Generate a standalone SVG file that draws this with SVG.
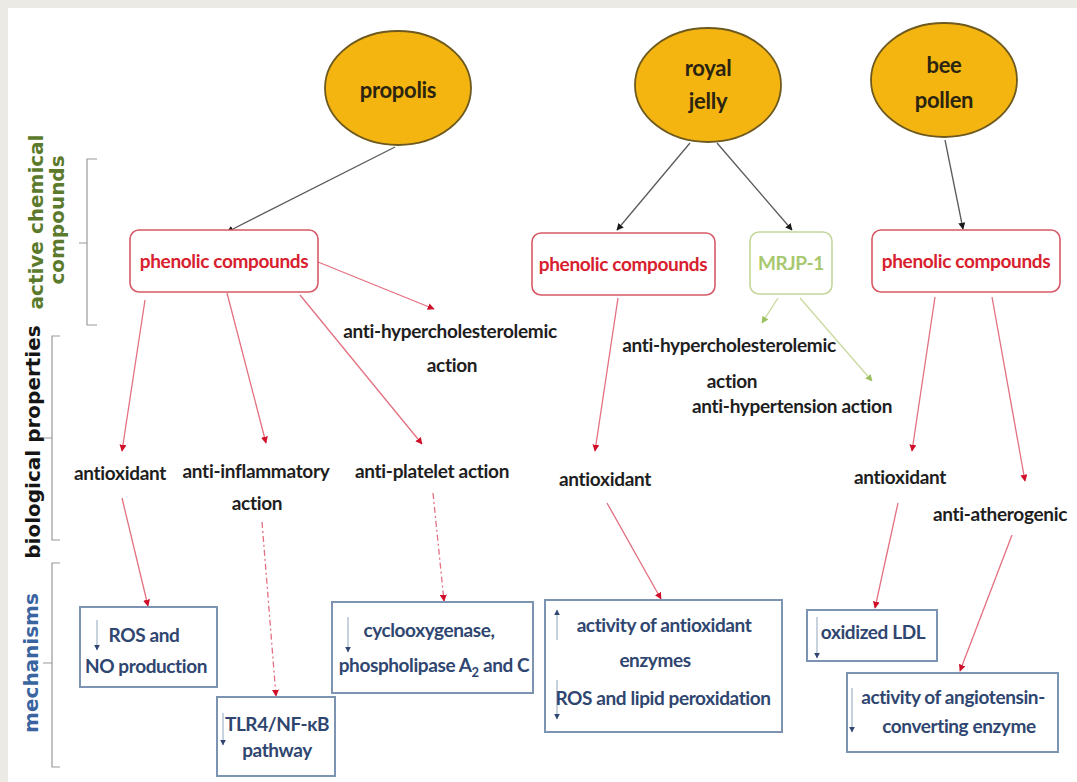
<svg xmlns="http://www.w3.org/2000/svg" width="1077" height="782" viewBox="0 0 1077 782">
<style>
.src{fill:#F5B511;stroke:#6E5A1E;stroke-width:1.8}
.srct{font-family:Lato,"Liberation Sans",sans-serif;font-weight:bold;font-size:22px;fill:#2A2410;text-anchor:middle;letter-spacing:-0.3px}
.rbox{fill:#fff;stroke:#D85A66;stroke-width:1.6}
.gbox{fill:#fff;stroke:#C3D79A;stroke-width:1.6}
.bbox{fill:#fff;stroke:#7D93B2;stroke-width:2}
.rt{font-family:Lato,"Liberation Sans",sans-serif;font-weight:bold;font-size:19px;fill:#D8202E;text-anchor:middle;letter-spacing:-0.35px}
.gt{font-family:Lato,"Liberation Sans",sans-serif;font-weight:bold;font-size:19px;fill:#A8C870;text-anchor:middle;letter-spacing:-0.3px}
.lbl{font-family:Lato,"Liberation Sans",sans-serif;font-weight:bold;font-size:19px;fill:#1E1E1E;text-anchor:middle;letter-spacing:-0.3px}
.bt{font-family:Lato,"Liberation Sans",sans-serif;font-weight:bold;font-size:19px;fill:#2F4670;text-anchor:middle;letter-spacing:-0.4px}
.side{font-family:"DejaVu Sans",sans-serif;font-weight:bold;font-size:20px;text-anchor:middle}
.br{fill:none;stroke:#9A9A9A;stroke-width:1.2}
.gl{fill:none;stroke:#5A5A5A;stroke-width:1.3;marker-end:url(#ag)}
.rl{fill:none;stroke:#E37080;stroke-width:1.3;marker-end:url(#ar)}
.rd{fill:none;stroke:#E37080;stroke-width:1.3;stroke-dasharray:6 3 2 3;marker-end:url(#ar)}
.ggl{fill:none;stroke:#C8DA9E;stroke-width:1.3;marker-end:url(#agr)}
.ind{fill:none;stroke:#A3B2C8;stroke-width:1.2}
.inddn{marker-end:url(#ab)}
</style>
<defs>
<marker id="ag" viewBox="0 0 10 10" refX="9" refY="5" markerWidth="7" markerHeight="7" markerUnits="userSpaceOnUse" orient="auto"><path d="M0,0 L10,5 L0,10 z" fill="#1A1A1A"/></marker>
<marker id="ar" viewBox="0 0 10 10" refX="9" refY="5" markerWidth="7" markerHeight="7" markerUnits="userSpaceOnUse" orient="auto"><path d="M0,0 L10,5 L0,10 z" fill="#D0102A"/></marker>
<marker id="agr" viewBox="0 0 10 10" refX="9" refY="5" markerWidth="7" markerHeight="7" markerUnits="userSpaceOnUse" orient="auto"><path d="M0,0 L10,5 L0,10 z" fill="#9CC060"/></marker>
<marker id="ab" viewBox="0 0 10 10" refX="9" refY="5" markerWidth="6" markerHeight="6" markerUnits="userSpaceOnUse" orient="auto"><path d="M0,0 L10,5 L0,10 z" fill="#2F4670"/></marker>
</defs>
<rect x="0" y="0" width="1077" height="782" fill="#ECEAE4"/>
<rect x="8" y="8" width="1069" height="774" fill="#FFFFFF"/>

<g id="side-labels">
<text class="side" fill="#5C7A2C" transform="translate(43,222) rotate(-90)">active chemical</text>
<text class="side" fill="#5C7A2C" transform="translate(64,220) rotate(-90)">compounds</text>
<text class="side" fill="#151515" transform="translate(40,442) rotate(-90)">biological properties</text>
<text class="side" fill="#3A64A0" transform="translate(38,663) rotate(-90)">mechanisms</text>
<path class="br" d="M97,159 H87 V325 H97 M87,243 H79"/>
<path class="br" d="M60,336 H52 V540 H60 M52,438 H43"/>
<path class="br" d="M60,563 H52 V767 H60 M52,663 H43"/>
</g>

<g id="connectors">
<line class="gl" x1="395" y1="147" x2="227" y2="232"/>
<line class="gl" x1="690" y1="143" x2="617" y2="230"/>
<line class="gl" x1="717" y1="143" x2="792" y2="230"/>
<line class="gl" x1="945" y1="140" x2="963" y2="229"/>
<line class="rl" x1="145" y1="300" x2="122" y2="451"/>
<line class="rl" x1="227" y1="293" x2="266" y2="443"/>
<line class="rl" x1="300" y1="295" x2="422" y2="444"/>
<line class="rl" x1="318" y1="262" x2="434" y2="309"/>
<line class="rl" x1="122" y1="498" x2="148" y2="606"/>
<line class="rd" x1="262" y1="522" x2="276" y2="696"/>
<line class="rd" x1="433" y1="493" x2="444" y2="601"/>
<line class="rl" x1="618" y1="298" x2="595" y2="451"/>
<line class="rl" x1="607" y1="503" x2="661" y2="599"/>
<line class="ggl" x1="778" y1="298" x2="762" y2="323"/>
<line class="ggl" x1="800" y1="298" x2="872" y2="381"/>
<line class="rl" x1="935" y1="297" x2="912" y2="451"/>
<line class="rl" x1="992" y1="297" x2="1025" y2="481"/>
<line class="rl" x1="898" y1="503" x2="875" y2="608"/>
<line class="rl" x1="1012" y1="535" x2="960" y2="671"/>
</g>

<g id="propolis"><ellipse class="src" cx="398" cy="88" rx="73" ry="57"/><text class="srct" x="398" y="98">propolis</text></g>
<g id="royal-jelly"><ellipse class="src" cx="708" cy="85" rx="73" ry="57"/><text class="srct" x="708" y="76">royal</text><text class="srct" x="708" y="109">jelly</text></g>
<g id="bee-pollen"><ellipse class="src" cx="944" cy="80" rx="73" ry="57"/><text class="srct" x="944" y="73">bee</text><text class="srct" x="944" y="108">pollen</text></g>

<g id="phenolic-propolis"><rect class="rbox" x="130" y="230" width="188" height="62" rx="9"/><text class="rt" x="224" y="268">phenolic compounds</text></g>
<g id="phenolic-royal"><rect class="rbox" x="532" y="233" width="183" height="62" rx="9"/><text class="rt" x="623" y="271">phenolic compounds</text></g>
<g id="mrjp1"><rect class="gbox" x="750" y="232" width="82" height="62" rx="9"/><text class="gt" x="791" y="270">MRJP-1</text></g>
<g id="phenolic-bee"><rect class="rbox" x="872" y="230" width="188" height="62" rx="9"/><text class="rt" x="966" y="268">phenolic compounds</text></g>

<g id="antioxidant-1"><text class="lbl" x="120" y="480">antioxidant</text></g>
<g id="anti-inflammatory"><text class="lbl" x="256" y="478">anti-inflammatory</text><text class="lbl" x="257" y="510">action</text></g>
<g id="anti-platelet"><text class="lbl" x="432" y="478">anti-platelet action</text></g>
<g id="anti-hyperchol-1"><text class="lbl" x="450" y="338">anti-hypercholesterolemic</text><text class="lbl" x="452" y="372">action</text></g>
<g id="antioxidant-2"><text class="lbl" x="605" y="486">antioxidant</text></g>
<g id="anti-hyperchol-2"><text class="lbl" x="729" y="352">anti-hypercholesterolemic</text><text class="lbl" x="732" y="388">action</text></g>
<g id="anti-hypertension"><text class="lbl" x="792" y="413">anti-hypertension action</text></g>
<g id="antioxidant-3"><text class="lbl" x="900" y="484">antioxidant</text></g>
<g id="anti-atherogenic"><text class="lbl" x="1000" y="521">anti-atherogenic</text></g>

<g id="ros-no"><rect class="bbox" x="80" y="607" width="137" height="80"/><line class="ind inddn" x1="97" y1="620" x2="97" y2="650"/><text class="bt" x="144" y="642">ROS and</text><text class="bt" x="146" y="673">NO production</text></g>
<g id="tlr4"><rect class="bbox" x="217" y="697" width="118" height="79"/><line class="ind inddn" x1="223" y1="713" x2="223" y2="745"/><text class="bt" x="277" y="731">TLR4/NF-κB</text><text class="bt" x="277" y="757">pathway</text></g>
<g id="cox"><rect class="bbox" x="332" y="602" width="201" height="91"/><line class="ind inddn" x1="348" y1="617" x2="348" y2="652"/><text class="bt" x="429" y="637">cyclooxygenase,</text><text class="bt" x="434" y="672">phospholipase A<tspan font-size="13" dy="5">2</tspan><tspan dy="-5"> and C</tspan></text></g>
<g id="antiox-enzymes"><rect class="bbox" x="545" y="600" width="237" height="132"/><line class="ind" x1="557" y1="640" x2="557" y2="610" marker-end="url(#ab)"/><line class="ind inddn" x1="557" y1="680" x2="557" y2="719"/><text class="bt" x="664" y="632">activity of antioxidant</text><text class="bt" x="655" y="667">enzymes</text><text class="bt" x="663" y="705">ROS and lipid peroxidation</text></g>
<g id="oxidized-ldl"><rect class="bbox" x="807" y="610" width="130" height="51"/><line class="ind inddn" x1="817" y1="617" x2="817" y2="658"/><text class="bt" x="873" y="639">oxidized LDL</text></g>
<g id="ace"><rect class="bbox" x="847" y="673" width="211" height="79"/><line class="ind inddn" x1="852" y1="688" x2="852" y2="732"/><text class="bt" x="953" y="704">activity of angiotensin-</text><text class="bt" x="959" y="733">converting enzyme</text></g>
</svg>
